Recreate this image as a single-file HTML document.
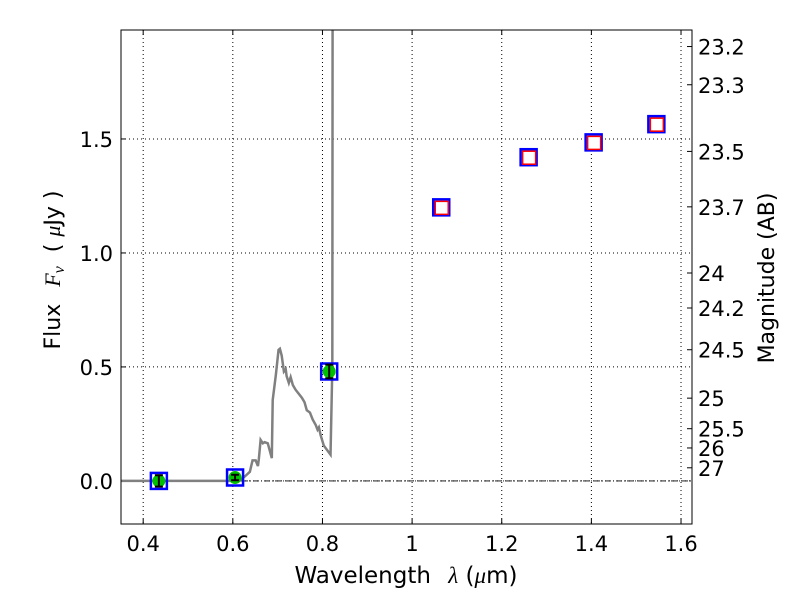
<!DOCTYPE html>
<html><head><meta charset="utf-8"><style>
body{margin:0;background:#fff}
svg text{font-family:"DejaVu Sans","Liberation Sans",sans-serif;fill:#000}
.m{font-family:"Liberation Serif","DejaVu Serif",serif;font-style:italic}
</style></head><body>
<svg id="c" width="800" height="600" viewBox="0 0 800 600"></svg>
<script>
const xTicks=[0.4,0.6,0.8,1.0,1.2,1.4,1.6];
const xTickLabels=["0.4","0.6","0.8","1","1.2","1.4","1.6"];
const yTicks=[0.0,0.5,1.0,1.5];
const yTickLabels=["0.0","0.5","1.0","1.5"];
const magTicks=[23.2,23.3,23.5,23.7,24,24.2,24.5,25,25.5,26,27];
const magLabels=["23.2","23.3","23.5","23.7","24","24.2","24.5","25","25.5","26","27"];
const specX=[0.35,0.615,0.627,0.638,0.644,0.651,0.656,0.658,0.662,0.667,0.671,0.678,0.687,0.689,0.696,0.702,0.705,0.709,0.714,0.718,0.720,0.725,0.729,0.734,0.740,0.754,0.760,0.765,0.772,0.778,0.785,0.789,0.792,0.796,0.803,0.818,0.822,0.823];
const specY=[0,0,0.02,0.04,0.09,0.09,0.065,0.095,0.18,0.165,0.17,0.165,0.10,0.355,0.465,0.575,0.58,0.55,0.48,0.49,0.46,0.43,0.455,0.42,0.40,0.365,0.345,0.31,0.30,0.27,0.245,0.225,0.235,0.20,0.155,0.115,0.5,3.0];
const photX=[0.435,0.605,0.815];
const photY=[0.0,0.015,0.48];
const photErr=[0.025,0.012,0.03];
const limX=[1.065,1.26,1.405,1.545];
const limY=[1.20,1.42,1.485,1.565];
const L=121,R=692,T=30,B=524,X0=0.3505,X1=1.6245,Y0=-0.189,Y1=1.978;
const sx=v=>L+(v-X0)/(X1-X0)*(R-L);
const sy=v=>B-(v-Y0)/(Y1-Y0)*(B-T);
const mag2f=m=>Math.pow(10,(23.9-m)/2.5);
const svg=document.getElementById('c');const NS='http://www.w3.org/2000/svg';
function mk(t,a,p){const e=document.createElementNS(NS,t);for(const k in a)e.setAttribute(k,a[k]);(p||svg).appendChild(e);return e;}
const defs=mk('defs',{});const cp=mk('clipPath',{id:'clip'},defs);mk('rect',{x:L,y:T,width:R-L,height:B-T},cp);
const grid=mk('g',{});


xTicks.forEach((v,i)=>{
 mk('line',{x1:sx(v),x2:sx(v),y1:T,y2:B,stroke:'#000','stroke-width':1,'stroke-dasharray':'1,3'},grid);
 mk('line',{x1:sx(v),x2:sx(v),y1:B,y2:B-5,stroke:'#000'});mk('line',{x1:sx(v),x2:sx(v),y1:T,y2:T+5,stroke:'#000'});
 const t=mk('text',{x:sx(v),y:B+27,'font-size':21,'text-anchor':'middle'});t.textContent=xTickLabels[i];
 
 
});
yTicks.forEach((v,i)=>{
 mk('line',{x1:L,x2:R,y1:sy(v),y2:sy(v),stroke:'#000','stroke-width':1,'stroke-dasharray':'1,3'},grid);
 mk('line',{x1:L,x2:L+5,y1:sy(v),y2:sy(v),stroke:'#000'});
 const t=mk('text',{x:L-8,y:sy(v)+8,'font-size':21,'text-anchor':'end'});t.textContent=yTickLabels[i];
 
 
});
magTicks.forEach((m,i)=>{
 const y=sy(mag2f(m));
 mk('line',{x1:R,x2:R-5,y1:y,y2:y,stroke:'#000'});
 const t=mk('text',{x:R+6,y:y+8,'font-size':21});t.textContent=magLabels[i];
 
 
});
const zl=mk('line',{x1:L,x2:R,y1:sy(0),y2:sy(0),stroke:'#000','stroke-width':0.8,'stroke-dasharray':'6,2,1,2'});


const sp=mk('polyline',{points:specX.map((x,i)=>sx(x)+','+sy(specY[i])).join(' '),fill:'none',stroke:'#808080','stroke-width':2.5,'clip-path':'url(#clip)'});


photX.forEach((x,i)=>{
 const cx=sx(x),cy=sy(photY[i]);
 const g=mk('g',{});
 
 
 mk('rect',{x:cx-8,y:cy-8,width:16,height:16,fill:'none',stroke:'#00f','stroke-width':2.5},g);
 mk('circle',{cx:cx,cy:cy,r:6.5,fill:'#00c000'},g);
 const y1=sy(photY[i]+photErr[i]),y2=sy(photY[i]-photErr[i]);
 mk('line',{x1:cx,x2:cx,y1:y1,y2:y2,stroke:'#000','stroke-width':2},g);
 mk('line',{x1:cx-4,x2:cx+4,y1:y1,y2:y1,stroke:'#000','stroke-width':2},g);
 mk('line',{x1:cx-4,x2:cx+4,y1:y2,y2:y2,stroke:'#000','stroke-width':2},g);
});
limX.forEach((x,i)=>{
 const cx=sx(x),cy=sy(limY[i]);
 const g=mk('g',{});
 
 
 mk('rect',{x:cx-8,y:cy-8,width:16,height:16,fill:'none',stroke:'#00f','stroke-width':2.5},g);
 mk('rect',{x:cx-6,y:cy-6,width:13,height:13,fill:'#fff',stroke:'#f00','stroke-width':1.5},g);
});
const fr=mk('rect',{x:L,y:T,width:R-L,height:B-T,fill:'none',stroke:'#000','stroke-width':1});


const xl=mk('text',{x:406,y:583,'font-size':23,'text-anchor':'middle'});
xl.innerHTML='Wavelength <tspan dx="10" class="m">λ</tspan> (<tspan class="m">μ</tspan>m)';


const yl=mk('text',{x:0,y:0,'font-size':22,'text-anchor':'middle',transform:'translate(60,270) rotate(-90)'});
yl.innerHTML='Flux <tspan dx="10" class="m">F</tspan><tspan class="m" font-size="16" dy="4">ν</tspan><tspan dy="-4" dx="14">( </tspan><tspan class="m">μ</tspan>Jy )';


const rl=mk('text',{x:0,y:0,'font-size':22,'text-anchor':'middle',transform:'translate(774,278) rotate(-90)'});
rl.textContent='Magnitude (AB)';


</script>
</body></html>
